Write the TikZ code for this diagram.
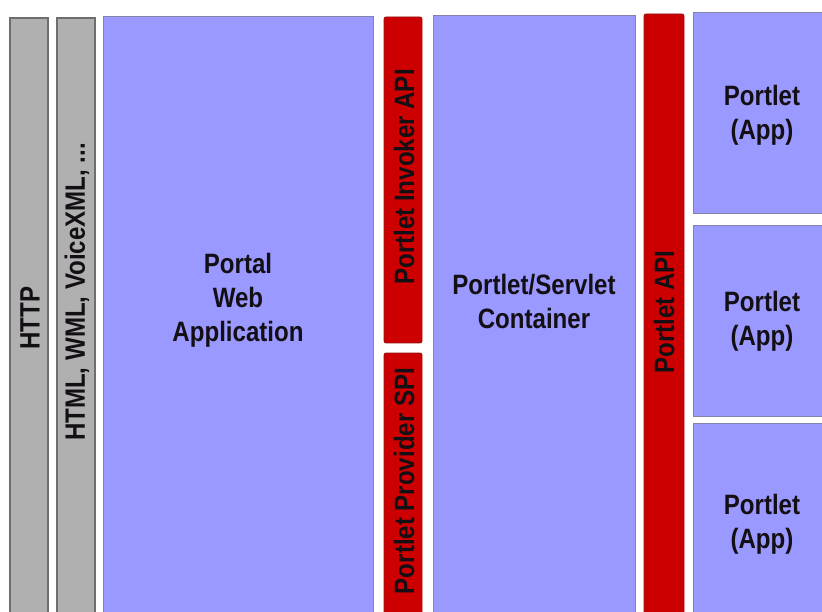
\documentclass[tikz,border=0pt]{standalone}
\usepackage{fontspec}
\newfontfamily\lab[FakeStretch=0.86]{Liberation Sans}
\definecolor{bluefill}{RGB}{153,153,255}
\definecolor{blueline}{RGB}{130,130,170}
\definecolor{grayfill}{RGB}{176,176,176}
\definecolor{grayline}{RGB}{110,110,110}
\definecolor{redfill}{RGB}{204,0,0}
\definecolor{redline}{RGB}{150,20,20}
\definecolor{txt}{RGB}{20,15,20}
\tikzset{
  box/.style={anchor=north west, inner sep=0pt, outer sep=0pt},
  bluebox/.style={box, fill=bluefill, draw=blueline, line width=0.8pt},
  graybox/.style={box, fill=grayfill, draw=grayline, line width=1.6pt},
  redbox/.style={box, fill=redfill, draw=redline, line width=0.8pt, rounded corners=2pt},
  lbl/.style={font=\lab\bfseries\fontsize{28}{34}\selectfont, text=txt, align=center, inner sep=0pt},
  vlbl/.style={lbl, rotate=90}
}
\begin{document}
\begin{tikzpicture}[x=1pt,y=-1pt]
\useasboundingbox (0,0) rectangle (822,612);
\clip (0,0) rectangle (822,612);
\fill[white] (0,0) rectangle (822,612);
% gray bars
\node[graybox, minimum width=38pt, minimum height=610pt] (http) at (10,18) {};
\node[graybox, minimum width=38pt, minimum height=610pt] (html) at (57,18) {};
% portal
\node[bluebox, minimum width=270pt, minimum height=610pt] (portal) at (103,16) {};
% red SPI/API
\node[redbox, minimum width=38pt, minimum height=326pt] (invoker) at (384,17) {};
\node[redbox, minimum width=38pt, minimum height=270pt] (provider) at (384,353) {};
% container
\node[bluebox, minimum width=202pt, minimum height=610pt] (container) at (433,15) {};
% portlet api
\node[redbox, minimum width=40pt, minimum height=610pt] (papi) at (644,14) {};
% portlets
\node[bluebox, minimum width=140pt, minimum height=201pt] (p1) at (693,12) {};
\node[bluebox, minimum width=140pt, minimum height=191pt] (p2) at (693,225) {};
\node[bluebox, minimum width=140pt, minimum height=200pt] (p3) at (693,423) {};
% labels
\node[vlbl] (lhttp) at (30,318) {HTTP};
\node[vlbl] (lhtml) at (77,292) {HTML, WML, VoiceXML, ...};
\node[lbl] (lportal) at (238,300) {Portal\\Web\\Application};
\node[vlbl] (linvoker) at (404,177) {Portlet Invoker API};
\node[vlbl] (lprovider) at (404,481) {Portlet Provider SPI};
\node[lbl] (lcontainer) at (534,301) {Portlet/Servlet\\Container};
\node[vlbl] (lpapi) at (664,312) {Portlet API};
\node[lbl] (lp1) at (762,115) {Portlet\\(App)};
\node[lbl] (lp2) at (762,321) {Portlet\\(App)};
\node[lbl] (lp3) at (762,524) {Portlet\\(App)};
\end{tikzpicture}
\end{document}
